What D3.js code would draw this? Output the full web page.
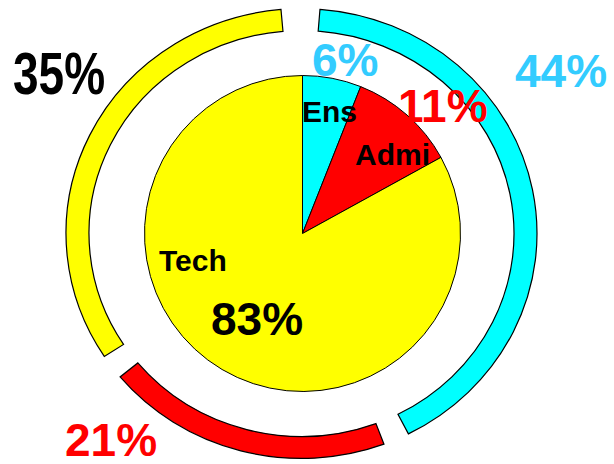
<!DOCTYPE html>
<html>
<head>
<meta charset="utf-8">
<script src="https://cdn.jsdelivr.net/npm/d3@7"></script>
<style>
  html, body { margin: 0; padding: 0; background: #FFFFFF; }
  text { font-family: "Liberation Sans", Arial, sans-serif; font-weight: bold; }
</style>
</head>
<body>
<div id="vis_container" style="width:614px;height:464px;"></div>
<script>
// inner pie
var pieCats = ["Ens", "Admi", "Tech"];
var pieValues = [6, 11, 83];
var pieColors = ["#00FFFF", "#FF0000", "#FFFF00"];

// outer ring
var ringValues = [44, 21, 35];
var ringColors = ["#00FFFF", "#FF0000", "#FFFF00"];

// labels
var ringLabels = ["44%", "21%", "35%"];
var ringLabelColors = ["#33CCFF", "#FF0000", "#000000"];
var pieLabels = ["6%", "11%", "83%"];
var pieLabelColors = ["#33CCFF", "#FF0000", "#000000"];

var chart = {};
chart.width = 614;
chart.height = 464;
chart.cx = 302.5;
chart.cy = 233.5;
chart.radius = 158;
chart.ring = {cx: 301.5, cy: 233.5, inner: 212.5, outer: 235.5, squash: 0.955};
chart.gap = 6.5 * Math.PI / 180;
chart.topGap = 3 * Math.PI / 180; // extra space at 12 o'clock
chart.offset = 1.25 * Math.PI / 180;

// label spots (left x, baseline y)
var pieCatPos = [[302, 122], [355, 165], [159, 271]];
var pieLabelPos = [[312, 76], [398, 122], [211, 335]];
var ringLabelPos = [[515, 87], [65, 456], [13, 94]];

var svg = d3.select("#vis_container").append("svg")
	.attr("width", chart.width)
	.attr("height", chart.height)
	.style("background-color", "#FFFFFF");

// outer ring, slightly flattened
var ringPie = d3.pie().sort(null)
	.startAngle(chart.offset)
	.endAngle(chart.offset + 2 * Math.PI - chart.topGap)
	.padAngle(chart.gap);

var ringArcs = ringPie(ringValues).map(function(d) {
	return {startAngle: d.startAngle + chart.gap / 2, endAngle: d.endAngle - chart.gap / 2, index: d.index};
});

var ringArc = d3.arc()
	.innerRadius(chart.ring.inner)
	.outerRadius(chart.ring.outer);

svg.append("g")
	.attr("transform", "translate(" + chart.ring.cx + "," + chart.ring.cy + ") scale(1," + chart.ring.squash + ")")
	.selectAll("path")
	.data(ringArcs)
	.enter().append("path")
		.attr("d", ringArc)
		.attr("fill", function(d) { return ringColors[d.index]; })
		.attr("stroke", "#000000")
		.attr("stroke-width", 1.2)
		.attr("vector-effect", "non-scaling-stroke");

// inner pie
var pie = d3.pie().sort(null);
var arc = d3.arc().innerRadius(0).outerRadius(chart.radius);

svg.append("g")
	.attr("transform", "translate(" + chart.cx + "," + chart.cy + ")")
	.selectAll("path")
	.data(pie(pieValues))
	.enter().append("path")
		.attr("d", arc)
		.attr("fill", function(d, i) { return pieColors[i]; })
		.attr("stroke", "#000000")
		.attr("stroke-width", 1);

// category names
svg.selectAll(".cat")
	.data(pieCats)
	.enter().append("text")
		.attr("class", "cat")
		.attr("x", function(d, i) { return pieCatPos[i][0]; })
		.attr("y", function(d, i) { return pieCatPos[i][1]; })
		.attr("font-size", 30)
		.attr("fill", "#000000")
		.text(function(d) { return d; });

// pie percentages
svg.selectAll(".pct")
	.data(pieLabels)
	.enter().append("text")
		.attr("class", "pct")
		.attr("x", function(d, i) { return pieLabelPos[i][0]; })
		.attr("y", function(d, i) { return pieLabelPos[i][1]; })
		.attr("font-size", 46)
		.attr("fill", function(d, i) { return pieLabelColors[i]; })
		.text(function(d) { return d; });

// ring percentages (the 35% one is drawn taller)
svg.selectAll(".rpct")
	.data(ringLabels)
	.enter().append("text")
		.attr("class", "rpct")
		.attr("transform", function(d, i) {
			var s = i == 2 ? 1.27 : 1;
			return "translate(" + ringLabelPos[i][0] + "," + ringLabelPos[i][1] + ") scale(1," + s + ")";
		})
		.attr("font-size", 46)
		.attr("fill", function(d, i) { return ringLabelColors[i]; })
		.text(function(d) { return d; });
</script>
</body>
</html>
